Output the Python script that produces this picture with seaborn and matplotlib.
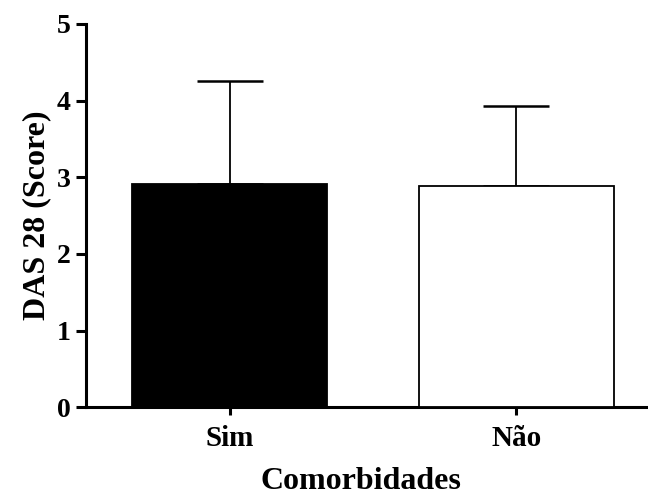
import matplotlib
matplotlib.use("Agg")
import matplotlib.pyplot as plt
import seaborn as sns
import pandas as pd
import numpy as np

categories = ["Sim", "Não"]
means = [2.91, 2.885]
sd_upper = [1.35, 1.045]
bar_colors = ["#000000", "#ffffff"]

sns.set_theme(style="ticks")
plt.rcParams['font.family'] = ['Liberation Serif', 'DejaVu Serif']
plt.rcParams['font.weight'] = 'bold'
plt.rcParams['text.color'] = 'black'
plt.rcParams['axes.labelcolor'] = 'black'
plt.rcParams['xtick.color'] = 'black'
plt.rcParams['ytick.color'] = 'black'
plt.rcParams['axes.edgecolor'] = 'black'

df = pd.DataFrame({"Comorbidades": categories, "DAS28": means})

fig = plt.figure(figsize=(6.48, 4.99), dpi=100)
ax = fig.add_axes([0.133, 0.184, 0.867, 0.768])

sns.barplot(data=df, x="Comorbidades", y="DAS28", hue="Comorbidades",
            palette=bar_colors, width=0.68, edgecolor="black", linewidth=1.3,
            legend=False, ax=ax, zorder=3)

ax.errorbar(x=np.arange(len(categories)), y=means,
            yerr=[np.zeros(len(means)), sd_upper],
            fmt="none", ecolor="black", elinewidth=1.3, capsize=23.5,
            capthick=1.8, zorder=2)

ax.set_ylim(0, 5)
ax.set_xlim(-0.5, 1.46)
ax.set_yticks([0, 1, 2, 3, 4, 5])
ax.set_xticks([0, 1])
ax.set_xticklabels(categories)

for s in ["top", "right"]:
    ax.spines[s].set_visible(False)
for s in ["left", "bottom"]:
    ax.spines[s].set_linewidth(2.2)
    ax.spines[s].set_color("black")

ax.tick_params(axis="y", length=7, width=2.2, labelsize=20, pad=4, colors="black")
ax.tick_params(axis="x", length=6, width=2.2, labelsize=21, pad=7, colors="black")
for lab in ax.get_xticklabels() + ax.get_yticklabels():
    lab.set_fontweight("bold")

ax.set_ylabel("DAS 28 (Score)", fontsize=23, fontweight="bold", labelpad=4)
ax.set_xlabel("Comorbidades", fontsize=23, fontweight="bold")
ax.xaxis.label.set_va("baseline")
ax.xaxis.set_label_coords(0.489, -0.214)

fig.savefig("out.png", dpi=100)
